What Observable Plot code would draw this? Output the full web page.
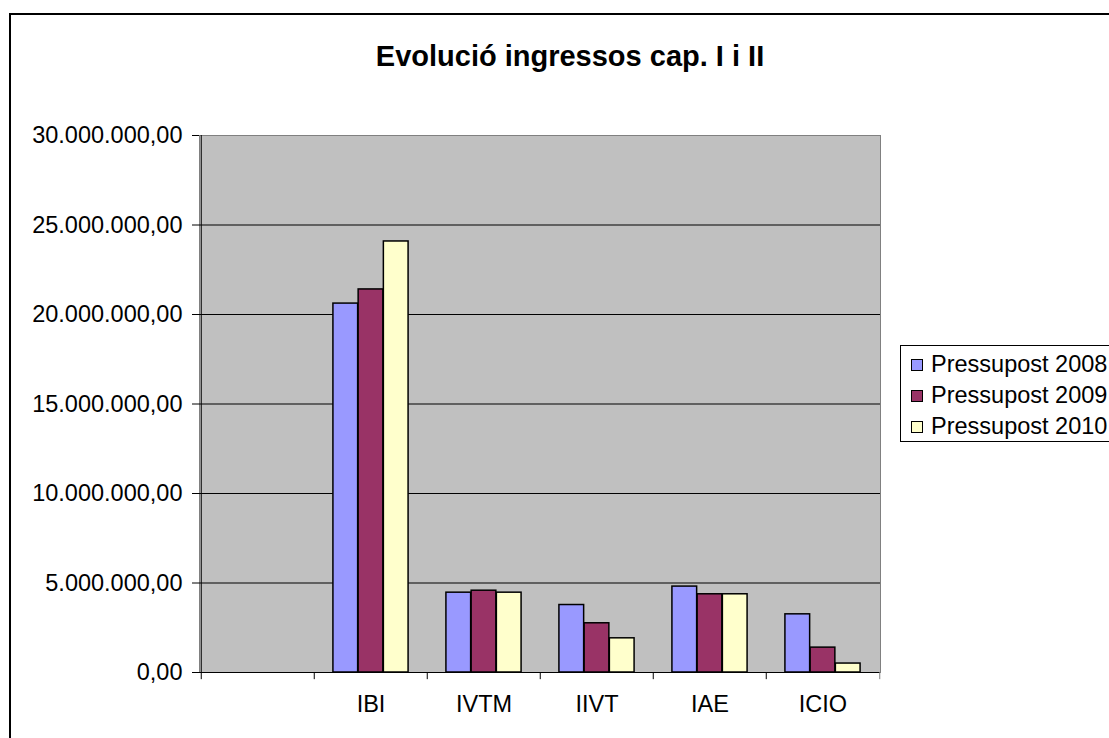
<!DOCTYPE html>
<html>
<head>
<meta charset="utf-8">
<script src="https://cdn.jsdelivr.net/npm/d3@7"></script>
<script src="https://cdn.jsdelivr.net/npm/@observablehq/plot@0.6"></script>
<style>
  html, body { margin: 0; padding: 0; background: white; }
  #wrap { position: relative; width: 1109px; height: 738px; overflow: hidden; font-family: 'Liberation Sans', Arial, sans-serif; }
  #chart { position: absolute; left: 0; top: 0; }
  #border { position: absolute; left: 9px; top: 13px; width: 1200px; height: 800px; border: 2.5px solid black; pointer-events: none; }
  #title { position: absolute; left: 370px; width: 400px; top: 40px; text-align: center; font-weight: bold; font-size: 29px; white-space: nowrap; }
  #legend { position: absolute; left: 900px; top: 345px; width: 260px; height: 95px; border: 1px solid black; background: white; }
  .item { position: absolute; left: 10px; height: 30px; line-height: 30px; font-size: 23.5px; white-space: nowrap; }
  .sw { display: inline-block; width: 10px; height: 10px; border: 1.5px solid black; margin-right: 8px; vertical-align: middle; position: relative; top: -1px; }
</style>
</head>
<body>
<div id="wrap">
  <div id="chart"></div>
  <div id="title">Evolució ingressos cap. I i II</div>
  <div id="legend"></div>
  <div id="border"></div>
</div>
<script>
const categories = ["", "IBI", "IVTM", "IIVT", "IAE", "ICIO"];
const series = ["Pressupost 2008", "Pressupost 2009", "Pressupost 2010"];
const values2008 = [null, 20610000, 4460000, 3770000, 4800000, 3250000];
const values2009 = [null, 21400000, 4570000, 2750000, 4370000, 1390000];
const values2010 = [null, 24080000, 4460000, 1910000, 4370000, 500000];
const colors = ["#9999ff", "#993366", "#ffffcc"];
const yTicks = [0, 5000000, 10000000, 15000000, 20000000, 25000000, 30000000];

const seriesValues = [values2008, values2009, values2010];
const rows = [];
series.forEach((s, i) => {
  categories.forEach((c, j) => {
    const v = seriesValues[i][j];
    if (v != null) rows.push({category: c, series: s, value: v});
  });
});

const W = 1109, H = 738;
const mL = 199, mR = 229, mT = 135, mB = 66;
const bw = (W - mL - mR) / categories.length;
const barW = bw / 4.5;
const outer = 0.75 * barW;

const locale = d3.formatLocale({decimal: ",", thousands: ".", grouping: [3], currency: ["", ""]});
const fmt = locale.format(",.2f");
const tickDown = -0.4e6;

const plot = Plot.plot({
  width: W, height: H,
  marginLeft: mL, marginRight: mR, marginTop: mT, marginBottom: mB,
  style: {fontFamily: "'Liberation Sans', Arial, sans-serif", fontSize: "23.5px", background: "transparent", color: "black"},
  x: {domain: categories, padding: 0, tickSize: 0, tickPadding: 23, label: null},
  y: {domain: [0, 30000000], ticks: yTicks, tickFormat: fmt, tickSize: 7, tickPadding: 10, label: null},
  color: {domain: series, range: colors},
  marks: [
    Plot.frame({fill: "#c0c0c0", stroke: "#808080"}),
    Plot.ruleY(yTicks.filter(v => v > 0 && v < 30000000), {stroke: "black"}),
    ...series.map((s, i) => Plot.barY(rows.filter(r => r.series === s), {
      x: "category", y: "value", fill: "series", stroke: "black", strokeWidth: 1.5,
      insetLeft: outer + i * barW, insetRight: bw - outer - (i + 1) * barW
    })),
    Plot.ruleY([0], {stroke: "black"}),
    Plot.ruleX([categories[0]], {x: d => d, dx: -bw / 2, y1: tickDown, y2: 30000000, stroke: "black"}),
    Plot.ruleX(categories.slice(1), {x: d => d, dx: -bw / 2, y1: tickDown, y2: 0, stroke: "black"}),
    Plot.ruleX([categories[categories.length - 1]], {x: d => d, dx: bw / 2, y1: tickDown, y2: 0, stroke: "#808080"})
  ]
});
document.getElementById("chart").appendChild(plot);

const legend = document.getElementById("legend");
series.forEach((s, i) => {
  const item = document.createElement("div");
  item.className = "item";
  item.style.top = (3 + i * 31) + "px";
  const sw = document.createElement("span");
  sw.className = "sw";
  sw.style.background = colors[i];
  item.appendChild(sw);
  item.appendChild(document.createTextNode(s));
  legend.appendChild(item);
});
</script>
</body>
</html>
